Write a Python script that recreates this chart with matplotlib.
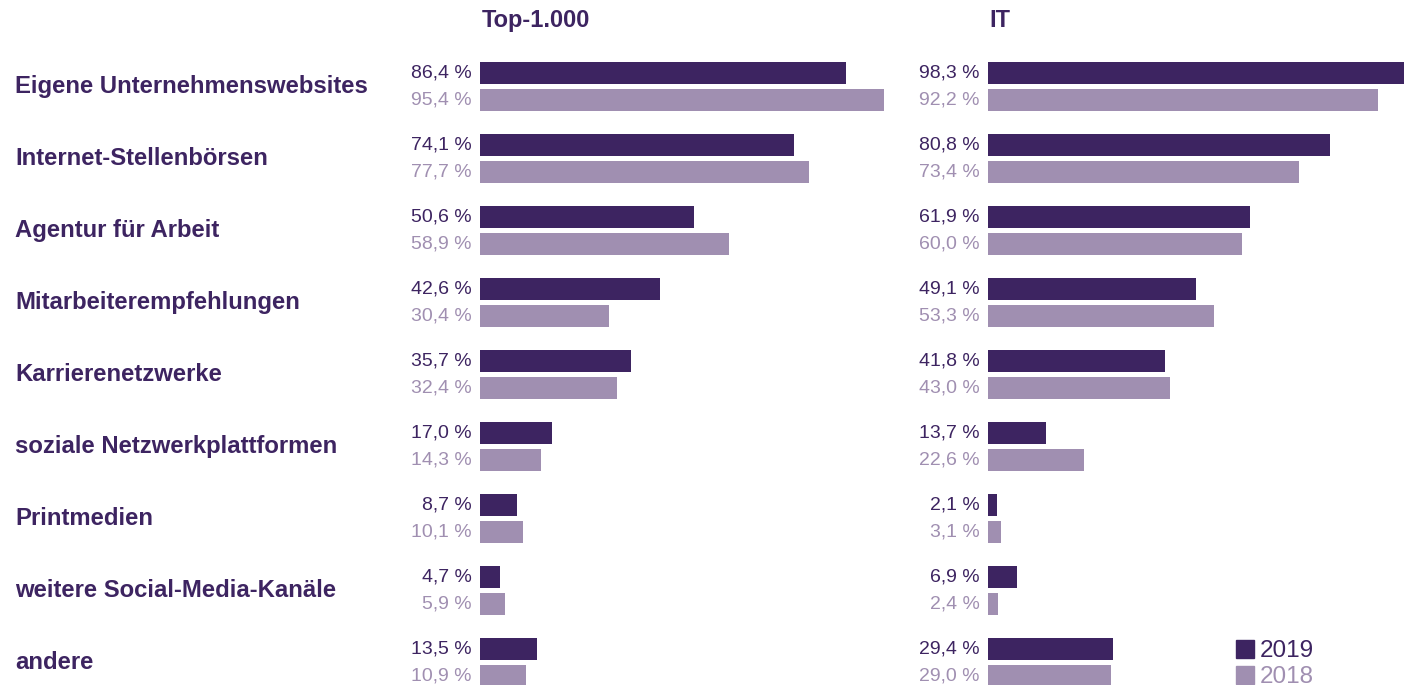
import matplotlib.pyplot as plt
from matplotlib.patches import Patch
from matplotlib.transforms import blended_transform_factory

plt.rcParams['font.family'] = ['Liberation Sans', 'DejaVu Sans']

kategorien = ['Eigene Unternehmenswebsites', 'Internet-Stellenbörsen', 'Agentur für Arbeit',
              'Mitarbeiterempfehlungen', 'Karrierenetzwerke', 'soziale Netzwerkplattformen',
              'Printmedien', 'weitere Social-Media-Kanäle', 'andere']
top_2019 = [86.4, 74.1, 50.6, 42.6, 35.7, 17.0, 8.7, 4.7, 13.5]
top_2018 = [95.4, 77.7, 58.9, 30.4, 32.4, 14.3, 10.1, 5.9, 10.9]
it_2019 = [98.3, 80.8, 61.9, 49.1, 41.8, 13.7, 2.1, 6.9, 29.4]
it_2018 = [92.2, 73.4, 60.0, 53.3, 43.0, 22.6, 3.1, 2.4, 29.0]
titel = ['Top-1.000', 'IT']

dunkel = '#3d2461'
hell = '#a08fb1'

W, H = 1413, 685
fig = plt.figure(figsize=(W / 100, H / 100), dpi=100)

# Zeilenraster in Pixeln: Zeile 0 Mitte bei 86.5 px, Abstand 72 px
y_top = -86.5 / 72
y_bot = (H - 86.5) / 72
off = 13.5 / 72
hoehe = 22 / 72
skala = 423.5  # px fuer 100 %


def panel(x0, v19, v18, name):
    ax = fig.add_axes([x0 / W, 0, skala / W, 1])
    ax.set_xlim(0, 100)
    ax.set_ylim(y_bot, y_top)
    ax.axis('off')
    pos = range(len(v19))
    ax.barh([p - off for p in pos], v19, height=hoehe, color=dunkel)
    ax.barh([p + off for p in pos], v18, height=hoehe, color=hell)
    for p, a, b in zip(pos, v19, v18):
        ax.text(-2, p - off, f'{a:.1f} %'.replace('.', ','), ha='right', va='center',
                fontsize=14, color=dunkel)
        ax.text(-2, p + off, f'{b:.1f} %'.replace('.', ','), ha='right', va='center',
                fontsize=14, color=hell)
    ax.text(0.004, 0.97, name, transform=ax.transAxes, ha='left', va='center',
            fontsize=17, fontweight='bold', color=dunkel)
    return ax


ax1 = panel(480, top_2019, top_2018, titel[0])
ax2 = panel(988, it_2019, it_2018, titel[1])

trans = blended_transform_factory(fig.transFigure, ax1.transData)
for i, k in enumerate(kategorien):
    ax1.text(15 / W, i, k, transform=trans, ha='left', va='center',
             fontsize=17.2, fontweight='bold', color=dunkel)

handles = [Patch(color=dunkel), Patch(color=hell)]
leg = fig.legend(handles, ['2019', '2018'], loc='lower left', bbox_to_anchor=(1214 / W, -0.037),
                 frameon=False, fontsize=17.5, handlelength=0.75, handleheight=0.75,
                 handletextpad=0.25, labelspacing=0.15)
for t, c in zip(leg.get_texts(), [dunkel, hell]):
    t.set_color(c)

fig.savefig('out.png', dpi=100)
